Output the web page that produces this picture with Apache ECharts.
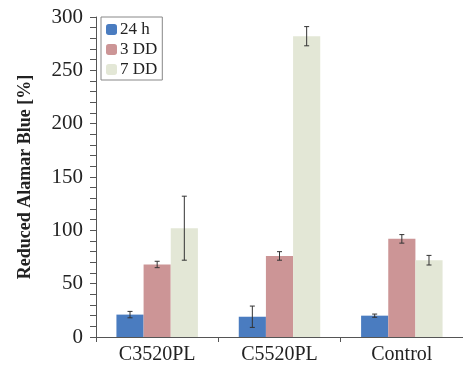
<!DOCTYPE html>
<html>
<head>
<meta charset="utf-8">
<script src="https://cdn.jsdelivr.net/npm/echarts@6/dist/echarts.min.js"></script>
<style>
  html, body { margin: 0; padding: 0; background: #fff; }
  #main { width: 463px; height: 370px; }
</style>
</head>
<body>
<div id="main"></div>
<script>
// groups on the x axis
var categories = ['C3520PL', 'C5520PL', 'Control'];
var seriesNames = ['24 h', '3 DD', '7 DD'];
// mean values
var val24h = [21, 19, 20];
var val3dd = [68, 76, 92];
var val7dd = [102, 282, 72];
// +/- error (standard deviation)
var err24h = [3, 10, 1.5];
var err3dd = [3, 4, 4];
var err7dd = [30, 9, 4.5];
var colors = ['#4a7cc0', '#cc9596', '#e3e7d6'];

var values = [val24h, val3dd, val7dd];
var errors = [err24h, err3dd, err7dd];
var barFrac = 0.222;
var font = '"Liberation Serif", "DejaVu Serif", serif';

var chart = echarts.init(document.getElementById('main'));

var series = [];
for (var s = 0; s < 3; s++) {
    series.push({
        name: seriesNames[s],
        type: 'bar',
        data: values[s],
        barWidth: (barFrac * 100) + '%',
        barGap: '0%',
        itemStyle: { color: colors[s] },
        animation: false
    });
}
// error bars drawn on top of the bars
for (var s = 0; s < 3; s++) {
    (function(idx) {
        var data = [];
        for (var i = 0; i < categories.length; i++) {
            data.push([i, values[idx][i] - errors[idx][i], values[idx][i] + errors[idx][i]]);
        }
        series.push({
            type: 'custom',
            name: 'err' + idx,
            data: data,
            z: 10,
            animation: false,
            renderItem: function(params, api) {
                var band = api.size([1, 0])[0];
                var off = (idx - 1) * band * barFrac;
                var lo = api.coord([api.value(0), api.value(1)]);
                var hi = api.coord([api.value(0), api.value(2)]);
                var x = lo[0] + off;
                var cap = 2.5;
                var st = { stroke: '#333', lineWidth: 1 };
                return {
                    type: 'group',
                    children: [
                        { type: 'line', shape: { x1: x, y1: lo[1], x2: x, y2: hi[1] }, style: st },
                        { type: 'line', shape: { x1: x - cap, y1: lo[1], x2: x + cap, y2: lo[1] }, style: st },
                        { type: 'line', shape: { x1: x - cap, y1: hi[1], x2: x + cap, y2: hi[1] }, style: st }
                    ]
                };
            }
        });
    })(s);
}

chart.setOption({
    backgroundColor: '#fff',
    animation: false,
    grid: { left: 96, right: -7, top: 17, bottom: 33 },
    legend: {
        data: seriesNames,
        orient: 'vertical',
        left: 101,
        top: 17,
        padding: [4, 5, 2, 5],
        borderColor: '#888',
        borderWidth: 1,
        itemWidth: 11,
        itemHeight: 11,
        itemGap: 3,
        textStyle: { fontFamily: font, fontSize: 17, color: '#222', padding: [0, 0, 0, -2] }
    },
    xAxis: {
        type: 'category',
        data: categories,
        axisLine: { lineStyle: { color: '#555', width: 1 } },
        axisTick: { show: true, length: 5, lineStyle: { color: '#555' } },
        axisLabel: { fontFamily: font, fontSize: 20, color: '#222', margin: 8 }
    },
    yAxis: {
        type: 'value',
        min: 0,
        max: 300,
        interval: 50,
        name: 'Reduced Alamar Blue [%]',
        nameLocation: 'middle',
        nameGap: 62,
        nameTextStyle: { fontFamily: font, fontSize: 18, fontWeight: 'bold', color: '#222' },
        axisLine: { show: true, lineStyle: { color: '#555', width: 1 } },
        axisTick: { show: true, length: 6, lineStyle: { color: '#555' } },
        minorTick: { show: true, splitNumber: 5, length: 6, lineStyle: { color: '#555' } },
        splitLine: { show: false },
        axisLabel: { fontFamily: font, fontSize: 21, color: '#222', margin: 13 }
    },
    series: series
});
</script>
</body>
</html>
